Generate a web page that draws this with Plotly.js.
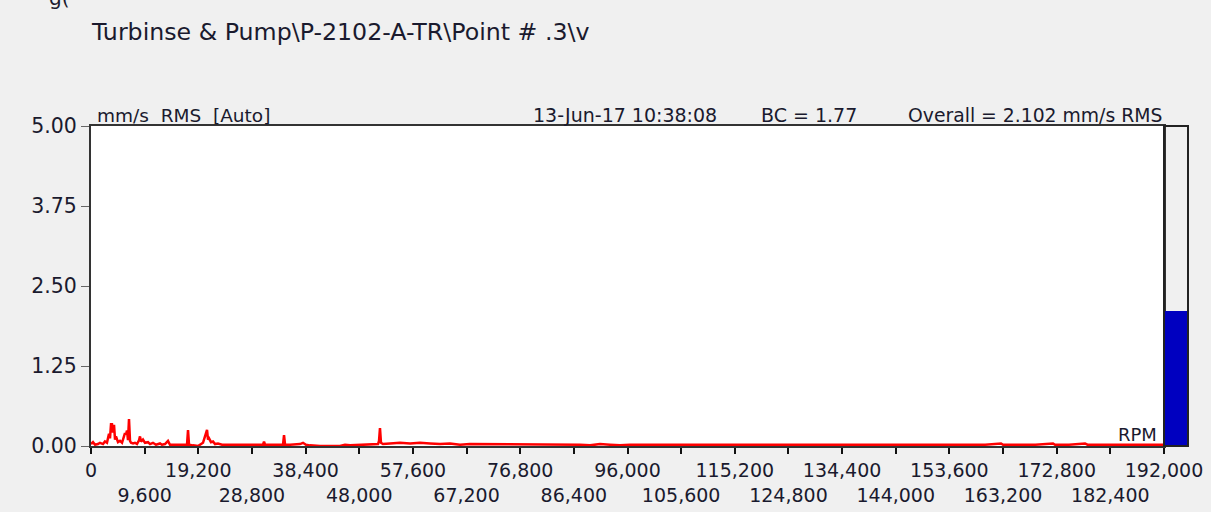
<!DOCTYPE html>
<html>
<head>
<meta charset="utf-8">
<script src="https://cdn.plot.ly/plotly-3.0.1.min.js"></script>
<style>html,body{margin:0;padding:0;background:#f0f0f0;}#chart{width:1211px;height:512px;}</style>
</head>
<body>
<div id="chart"></div>
<script>
// Spectrum: frequency (RPM / CPM) and amplitude (mm/s RMS)
const freq = [
  0, 360, 720, 1250, 1610, 2150, 2500, 2860, 3220, 3400,
  3580, 3760, 3940, 4120, 4300, 4470, 4830, 5190, 5550, 5900,
  6080, 6260, 6440, 6620, 6800, 6980, 7160, 7520, 7870, 8230,
  8590, 8770, 8950, 9300, 9660, 10200, 10560, 11090, 11630, 12350,
  12700, 13240, 13780, 14130, 14490, 15570, 16460, 17180, 17360, 17540,
  18250, 19150, 20040, 20400, 20580, 20760, 20940, 21120, 21470, 21830,
  22190, 22730, 23440, 24870, 26660, 28450, 29880, 30780, 30960, 31140,
  32030, 33820, 34360, 34540, 34720, 35610, 37400, 37940, 38470, 39190,
  40980, 44560, 45450, 46350, 48140, 49920, 51360, 51540, 51710, 51890,
  52250, 53500, 55290, 57100, 58870, 60660, 62450, 64240, 66030, 67800,
  69610, 71400, 73190, 74980, 76770, 78560, 80350, 82140, 83930, 85720,
  87500, 89300, 91080, 92870, 94660, 96450, 98240, 100000, 108970, 126870,
  144760, 151380, 151920, 155500, 156750, 160000, 162840, 163200, 166000, 169000,
  172140, 172500, 175000, 177870, 178300, 181000, 184000, 187000, 190000, 192000
];
const amp = [
  0.03, 0.06, 0.02, 0.03, 0.05, 0.03, 0.07, 0.05, 0.19, 0.12,
  0.34, 0.34, 0.21, 0.33, 0.10, 0.15, 0.06, 0.08, 0.05, 0.14,
  0.20, 0.18, 0.24, 0.09, 0.42, 0.08, 0.05, 0.04, 0.05, 0.03,
  0.09, 0.15, 0.07, 0.10, 0.05, 0.06, 0.03, 0.05, 0.02, 0.04,
  0.02, 0.03, 0.08, 0.02, 0.02, 0.03, 0.02, 0.02, 0.25, 0.02,
  0.01, 0.00, 0.05, 0.16, 0.22, 0.25, 0.10, 0.12, 0.06, 0.07,
  0.03, 0.04, 0.02, 0.02, 0.02, 0.02, 0.02, 0.02, 0.07, 0.02,
  0.02, 0.02, 0.02, 0.17, 0.02, 0.02, 0.03, 0.05, 0.02, 0.01,
  0.00, 0.00, 0.02, 0.01, 0.02, 0.03, 0.03, 0.08, 0.28, 0.05,
  0.03, 0.04, 0.05, 0.04, 0.05, 0.04, 0.03, 0.04, 0.02, 0.03,
  0.03, 0.02, 0.03, 0.02, 0.03, 0.02, 0.03, 0.02, 0.03, 0.02,
  0.02, 0.01, 0.03, 0.02, 0.01, 0.02, 0.02, 0.01, 0.01, 0.01,
  0.01, 0.02, 0.01, 0.02, 0.02, 0.02, 0.04, 0.02, 0.02, 0.02,
  0.04, 0.02, 0.02, 0.04, 0.02, 0.02, 0.02, 0.03, 0.02, 0.02
];

// Overall level bar
const overallLabel = ['Overall'];
const overallValue = [2.102];

// Axis ticks
const xTickVals = [0, 9600, 19200, 28800, 38400, 48000, 57600, 67200, 76800, 86400, 96000,
  105600, 115200, 124800, 134400, 144000, 153600, 163200, 172800, 182400, 192000];
const xTickText = ['0', '<br>9,600', '19,200', '<br>28,800', '38,400', '<br>48,000', '57,600',
  '<br>67,200', '76,800', '<br>86,400', '96,000', '<br>105,600', '115,200', '<br>124,800',
  '134,400', '<br>144,000', '153,600', '<br>163,200', '172,800', '<br>182,400', '192,000'];
const yTickVals = [0, 1.25, 2.5, 3.75, 5];
const yTickText = ['0.00', '1.25', '2.50', '3.75', '5.00'];

const FONT = 'DejaVu Sans, Verdana, sans-serif';
const TXT = '#1a1a2e';
const mainFrac = 1073 / 1097;

const traces = [
  {
    type: 'scatter', mode: 'lines', x: freq, y: amp,
    line: {color: '#ff0000', width: 2.5}, xaxis: 'x', yaxis: 'y',
    hoverinfo: 'x+y', showlegend: false
  },
  {
    type: 'bar', x: overallLabel, y: overallValue, width: [1],
    marker: {color: '#0000c0', line: {width: 0}},
    xaxis: 'x2', yaxis: 'y', showlegend: false, hoverinfo: 'y'
  }
];

const layout = {
  width: 1211, height: 512,
  margin: {l: 91, r: 23, t: 126, b: 66},
  paper_bgcolor: '#f0f0f0', plot_bgcolor: 'rgba(0,0,0,0)',
  font: {family: FONT, color: TXT, size: 18},
  title: {
    text: 'Turbinse &amp; Pump\\P-2102-A-TR\\Point # .3\\v',
    x: 92 / 1211, xanchor: 'left', xref: 'container',
    y: 1 - 32 / 512, yanchor: 'middle', yref: 'container',
    font: {family: FONT, size: 23.7, color: TXT}
  },
  xaxis: {
    domain: [0, mainFrac], range: [0, 192000],
    tickmode: 'array', tickvals: xTickVals, ticktext: xTickText,
    ticks: 'outside', ticklen: 6, tickwidth: 2, tickcolor: '#111',
    showline: true, linecolor: '#333', linewidth: 2, mirror: true,
    showgrid: false, zeroline: false, tickangle: 0,
    tickfont: {family: FONT, size: 19, color: TXT}, fixedrange: true
  },
  xaxis2: {
    domain: [mainFrac, 1], range: [-0.5, 0.5], anchor: 'y',
    showticklabels: false, ticks: '', showgrid: false, zeroline: false,
    showline: false, fixedrange: true
  },
  yaxis: {
    range: [0, 5], tickmode: 'array', tickvals: yTickVals, ticktext: yTickText,
    ticks: 'outside', ticklen: 8, tickwidth: 1, tickcolor: '#666',
    showline: true, linecolor: '#333', linewidth: 2, mirror: true,
    showgrid: false, zeroline: false, ticklabelstandoff: 0,
    tickfont: {family: FONT, size: 20.5, color: TXT}, fixedrange: true
  },
  shapes: [
    {type: 'rect', xref: 'x domain', yref: 'y domain', x0: 0, x1: 1, y0: 0, y1: 1,
     fillcolor: '#ffffff', line: {width: 0}, layer: 'below'},
    {type: 'rect', xref: 'x2 domain', yref: 'y domain', x0: 0, x1: 1, y0: 0, y1: 1,
     fillcolor: 'rgba(0,0,0,0)', line: {width: 2, color: '#222'}, layer: 'above'}
  ],
  annotations: [
    {text: 'g(', xref: 'paper', yref: 'paper', x: (47 - 91) / 1097, y: 1 + (126 - 12) / 320,
     xanchor: 'left', yanchor: 'bottom', showarrow: false, font: {family: FONT, size: 20, color: TXT}},
    {text: 'mm/s&nbsp;&nbsp;RMS&nbsp;&nbsp;[Auto]', xref: 'paper', yref: 'paper', x: 0.0035, y: 1.0,
     xanchor: 'left', yanchor: 'bottom', yshift: -2, showarrow: false, font: {family: FONT, size: 18.5, color: TXT}},
    {text: '13-Jun-17 10:38:08', xref: 'paper', yref: 'paper', x: (531 - 91) / 1097, y: 1.0,
     xanchor: 'left', yanchor: 'bottom', yshift: -2, showarrow: false, font: {family: FONT, size: 19, color: TXT}},
    {text: 'BC = 1.77', xref: 'paper', yref: 'paper', x: (759 - 91) / 1097, y: 1.0,
     xanchor: 'left', yanchor: 'bottom', yshift: -2, showarrow: false, font: {family: FONT, size: 19, color: TXT}},
    {text: 'Overall = 2.102 mm/s RMS', xref: 'paper', yref: 'paper', x: (1164 - 91) / 1097, y: 1.0,
     xanchor: 'right', yanchor: 'bottom', yshift: -2, showarrow: false, font: {family: FONT, size: 18.8, color: TXT}},
    {text: 'RPM', xref: 'x', yref: 'y', x: 192000, y: 0.0,
     xanchor: 'right', yanchor: 'bottom', xshift: -5, yshift: -1, showarrow: false,
     font: {family: FONT, size: 18, color: TXT}}
  ],
  bargap: 0,
  showlegend: false
};

Plotly.newPlot('chart', traces, layout, {displayModeBar: false, staticPlot: true});
</script>
</body>
</html>
